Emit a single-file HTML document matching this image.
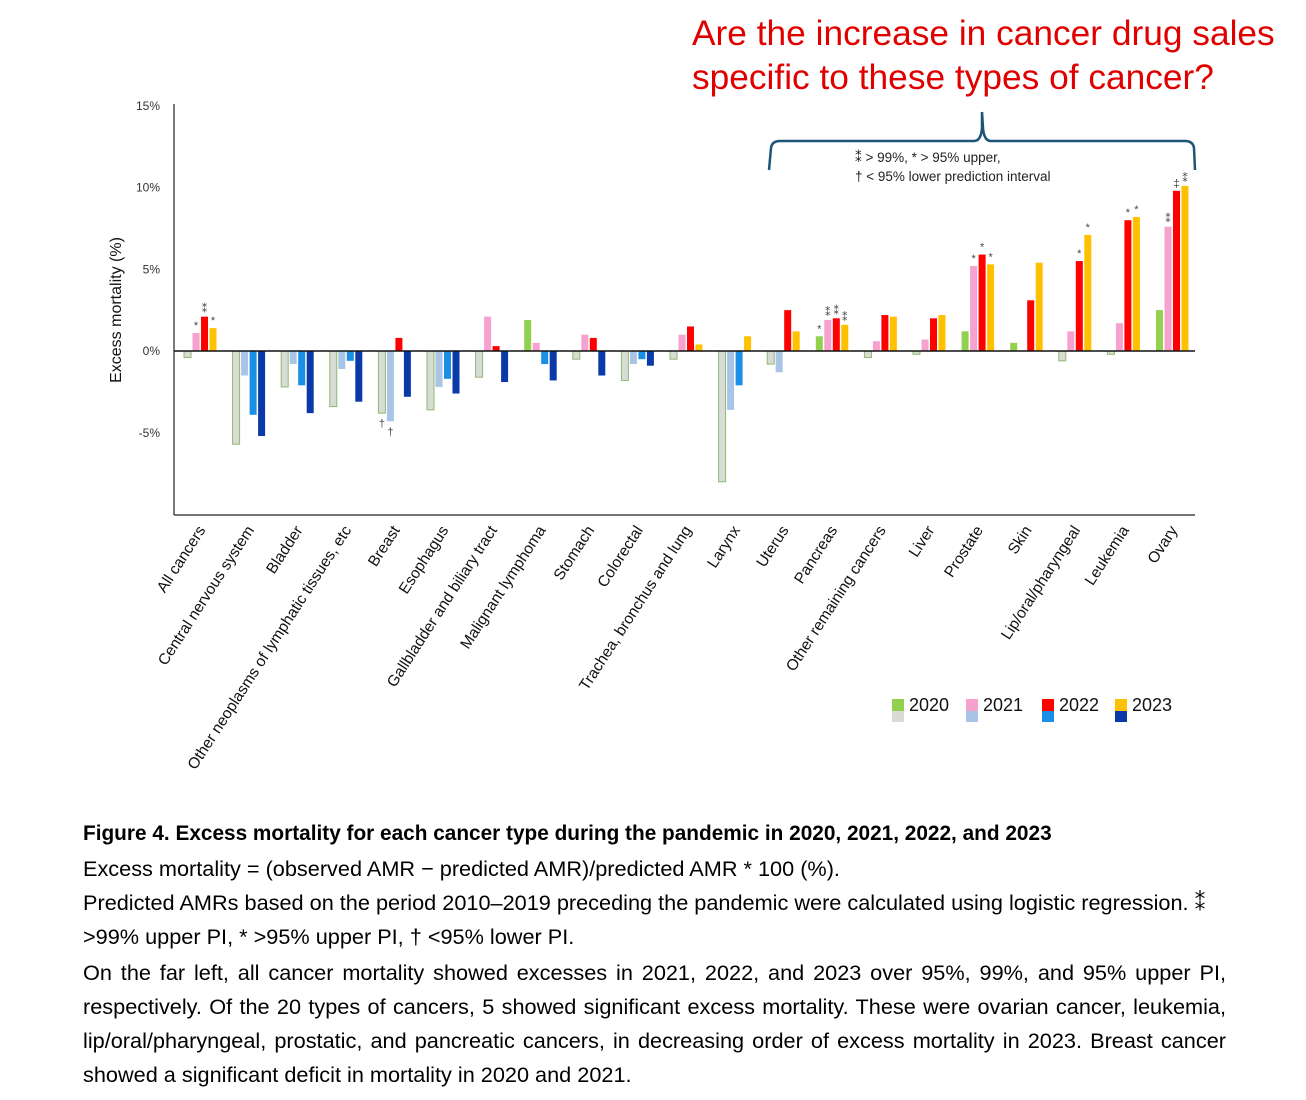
<!DOCTYPE html>
<html><head><meta charset="utf-8">
<style>
body{margin:0;background:#fff;width:1306px;height:1100px;overflow:hidden;font-family:"Liberation Sans",sans-serif;}
.cap{position:absolute;left:83px;font-size:21.7px;color:#000;white-space:nowrap;}
</style></head>
<body>
<div style="position:absolute;left:692px;top:12px;font-size:35.3px;color:#e00000;line-height:44px;white-space:nowrap;">Are the increase in cancer drug sales<br>specific to these types of cancer?</div>
<svg id="chart" width="1306" height="800" style="position:absolute;left:0;top:0;font-family:'Liberation Sans',sans-serif"></svg>
<div class="cap" style="top:822px;font-weight:bold;font-size:20.8px;">Figure 4. Excess mortality for each cancer type during the pandemic in 2020, 2021, 2022, and 2023</div>
<div class="cap" style="top:856px;">Excess mortality = (observed AMR − predicted AMR)/predicted AMR * 100 (%).</div>
<div class="cap" style="top:890px;">Predicted AMRs based on the period 2010–2019 preceding the pandemic were calculated using logistic regression. ⁑</div>
<div class="cap" style="top:924px;">&gt;99% upper PI, * &gt;95% upper PI, † &lt;95% lower PI.</div>
<div class="cap" style="top:956px;white-space:normal;width:1143px;text-align:justify;line-height:34px;">On the far left, all cancer mortality showed excesses in 2021, 2022, and 2023 over 95%, 99%, and 95% upper PI, respectively. Of the 20 types of cancers, 5 showed significant excess mortality. These were ovarian cancer, leukemia, lip/oral/pharyngeal, prostatic, and pancreatic cancers, in decreasing order of excess mortality in 2023. Breast cancer showed a significant deficit in mortality in 2020 and 2021.</div>
<script>
const categories=["All cancers","Central nervous system","Bladder","Other neoplasms of lymphatic tissues, etc","Breast","Esophagus","Gallbladder and biliary tract","Malignant lymphoma","Stomach","Colorectal","Trachea, bronchus and lung","Larynx","Uterus","Pancreas","Other remaining cancers","Liver","Prostate","Skin","Lip/oral/pharyngeal","Leukemia","Ovary"];
const v2020=[-0.4,-5.7,-2.2,-3.4,-3.8,-3.6,-1.6,1.9,-0.5,-1.8,-0.5,-8.0,-0.8,0.9,-0.4,-0.2,1.2,0.5,-0.6,-0.2,2.5];
const v2021=[1.1,-1.5,-0.8,-1.1,-4.3,-2.2,2.1,0.5,1.0,-0.8,1.0,-3.6,-1.3,1.9,0.6,0.7,5.2,0.0,1.2,1.7,7.6];
const v2022=[2.1,-3.9,-2.1,-0.6,0.8,-1.7,0.3,-0.8,0.8,-0.5,1.5,-2.1,2.5,2.0,2.2,2.0,5.9,3.1,5.5,8.0,9.8];
const v2023=[1.4,-5.2,-3.8,-3.1,-2.8,-2.6,-1.9,-1.8,-1.5,-0.9,0.4,0.9,1.2,1.6,2.1,2.2,5.3,5.4,7.1,8.2,10.1];
const marks=[["","*","⁑","*"],[],[],[],["†","†","",""],[],[],[],[],[],[],[],[],["*","⁑","⁑","⁑"],[],[],["","*","*","*"],[],["","","*","*"],["","","*","*"],["","⁑","‡","⁑"]];
const yTicks=[15,10,5,0,-5];
const years=["2020","2021","2022","2023"];
const series=[v2020,v2021,v2022,v2023];
const pos=["#92d050","#f7a1cf","#ff0000","#ffc000"];
const neg=["#d8dcd4","#a9c4e6","#1a8fe3","#0a3aa8"];
const svg=document.getElementById('chart');
const NS="http://www.w3.org/2000/svg";
const y=v=>351-v*16.35;
const cx=i=>200+i*48.6;
function mk(t,a){const e=document.createElementNS(NS,t);for(const k in a)e.setAttribute(k,a[k]);svg.appendChild(e);return e;}
let ax=mk('line',{x1:174,y1:104,x2:174,y2:515,stroke:'#222','stroke-width':1.2});

let bl=mk('line',{x1:174,y1:515,x2:1195,y2:515,stroke:'#222','stroke-width':1.2});

yTicks.forEach(t=>{const e=mk('text',{x:160,y:y(t)+4,'text-anchor':'end','font-size':12,fill:'#333'});e.textContent=t+'%';
});
let yl=mk('text',{x:0,y:0,'text-anchor':'middle','font-size':16,fill:'#111',transform:'translate(121,310) rotate(-90)'});yl.textContent='Excess  mortality (%)';

categories.forEach((c,i)=>{
 series.forEach((s,k)=>{const v=s[i];const x=cx(i)-16+k*8.5;
  const r=mk('rect',{x:x,y:Math.min(y(v),y(0)),width:7,height:Math.abs(y(v)-y(0)),fill:v>=0?pos[k]:neg[k],stroke:(v<0&&k==0)?'#8fb872':'none','stroke-width':1});
  
  const m=(marks[i]||[])[k];
  if(m){const t=mk('text',{x:x+3.5,y:v>=0?y(v)-4:y(v)+14,'text-anchor':'middle','font-size':11,fill:'#444'});t.textContent=m;
   }
 });
 const t=mk('text',{x:0,y:0,'text-anchor':'end','font-size':15.5,fill:'#111',transform:`translate(${cx(i)+6},${530}) rotate(-57)`});t.textContent=c;
 
});
let z=mk('line',{x1:174,y1:351,x2:1195,y2:351,stroke:'#111','stroke-width':1.5});

let br=mk('path',{d:'M769,170 L771,148 Q772,141 780,141 L974,141 Q981,141 982,128 L982,112 L983,128 Q984,141 991,141 L1185,141 Q1193,141 1194,148 L1195,170',fill:'none',stroke:'#1f5479','stroke-width':2.5});

[['⁑ > 99%, * > 95% upper,',162],['† < 95% lower prediction interval',181]].forEach(([s,yy])=>{const t=mk('text',{x:855,y:yy,'font-size':13.5,fill:'#222'});t.textContent=s;
 });
[[892,'2020'],[966,'2021'],[1042,'2022'],[1115,'2023']].forEach(([x,l],k)=>{
 const a=mk('rect',{x:x,y:699,width:12,height:12,fill:pos[k]});
 const b=mk('rect',{x:x,y:711,width:12,height:11,fill:neg[k]});
 const t=mk('text',{x:x+17,y:711,'font-size':18,fill:'#111'});t.textContent=l;
});
</script>
</body></html>
